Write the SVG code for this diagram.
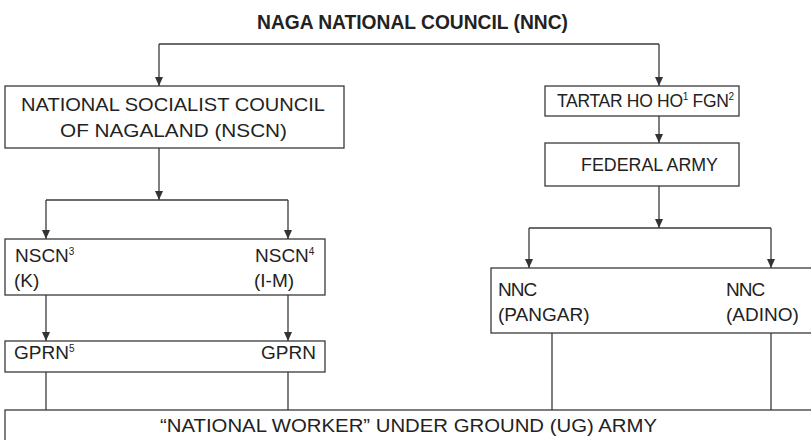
<svg xmlns="http://www.w3.org/2000/svg" width="811" height="440" viewBox="0 0 811 440">
<defs>
<marker id="arr" viewBox="0 0 9 9" refX="9" refY="4.5" markerWidth="9" markerHeight="9" markerUnits="userSpaceOnUse" orient="auto">
<path d="M0,0.5 L9,4.5 L0,8.5 z" fill="#333"/>
</marker>
</defs>
<style>
.box{fill:#fff;stroke:#3a3a3a;stroke-width:1.3}
.ln{fill:none;stroke:#3a3a3a;stroke-width:1.3}
.t{font-family:"Liberation Sans",Arial,sans-serif;font-size:19px;fill:#222}
.title{font-family:"Liberation Sans",Arial,sans-serif;font-size:21px;font-weight:bold;fill:#222}
.sup{font-size:10px}
</style>
<rect width="811" height="440" fill="#fff"/>
<g id="connectors">
<path class="ln" d="M159,44 H659"/>
<path class="ln" d="M159,44 V86" marker-end="url(#arr)"/>
<path class="ln" d="M659,44 V86" marker-end="url(#arr)"/>
<path class="ln" d="M159,148 V200" marker-end="url(#arr)"/>
<path class="ln" d="M46,200 H288"/>
<path class="ln" d="M46,200 V239" marker-end="url(#arr)"/>
<path class="ln" d="M288,200 V239" marker-end="url(#arr)"/>
<path class="ln" d="M46,295 V341" marker-end="url(#arr)"/>
<path class="ln" d="M288,295 V341" marker-end="url(#arr)"/>
<path class="ln" d="M46,372 V410"/>
<path class="ln" d="M288,372 V410"/>
<path class="ln" d="M659,116 V143" marker-end="url(#arr)"/>
<path class="ln" d="M659,186 V228" marker-end="url(#arr)"/>
<path class="ln" d="M529,228 H771"/>
<path class="ln" d="M529,228 V268" marker-end="url(#arr)"/>
<path class="ln" d="M771,228 V268" marker-end="url(#arr)"/>
<path class="ln" d="M552,333 V410"/>
<path class="ln" d="M771,333 V410"/>
</g>
<g id="nnc">
<text class="title" x="257" y="29" textLength="311" lengthAdjust="spacingAndGlyphs">NAGA NATIONAL COUNCIL (NNC)</text>
</g>
<g id="nscn">
<rect class="box" x="5" y="86" width="339" height="62"/>
<text class="t" x="21" y="111" textLength="304" lengthAdjust="spacingAndGlyphs">NATIONAL SOCIALIST COUNCIL</text>
<text class="t" x="60" y="137" textLength="227" lengthAdjust="spacingAndGlyphs">OF NAGALAND (NSCN)</text>
</g>
<g id="nscn-split">
<rect class="box" x="5" y="239" width="320" height="56"/>
<text class="t" x="15" y="262">NSCN<tspan class="sup" dy="-7">3</tspan></text>
<text class="t" x="14" y="287">(K)</text>
<text class="t" x="255" y="262">NSCN<tspan class="sup" dy="-7">4</tspan></text>
<text class="t" x="254" y="287">(I-M)</text>
</g>
<g id="gprn">
<rect class="box" x="5" y="341" width="320" height="31"/>
<text class="t" x="14" y="359">GPRN<tspan class="sup" dy="-7">5</tspan></text>
<text class="t" x="316" y="359" text-anchor="end">GPRN</text>
</g>
<g id="tartar">
<rect class="box" x="545" y="86" width="194" height="30"/>
<text class="t" x="557" y="107" style="font-size:17.5px" letter-spacing="-0.3">TARTAR HO HO<tspan class="sup" dy="-7">1</tspan><tspan dy="7"> FGN</tspan><tspan class="sup" dy="-7">2</tspan></text>
</g>
<g id="federal">
<rect class="box" x="545" y="143" width="194" height="43"/>
<text class="t" x="581" y="171" textLength="137" lengthAdjust="spacingAndGlyphs">FEDERAL ARMY</text>
</g>
<g id="nnc-split">
<rect class="box" x="491" y="268" width="340" height="65"/>
<text class="t" x="498" y="296" letter-spacing="-1">NNC</text>
<text class="t" x="498" y="321">(PANGAR)</text>
<text class="t" x="726" y="296" letter-spacing="-1">NNC</text>
<text class="t" x="726" y="321">(ADINO)</text>
</g>
<g id="ug-army">
<rect class="box" x="5" y="410" width="840" height="50"/>
<text class="t" x="160" y="432" textLength="497" lengthAdjust="spacingAndGlyphs">“NATIONAL WORKER” UNDER GROUND (UG) ARMY</text>
</g>
</svg>
